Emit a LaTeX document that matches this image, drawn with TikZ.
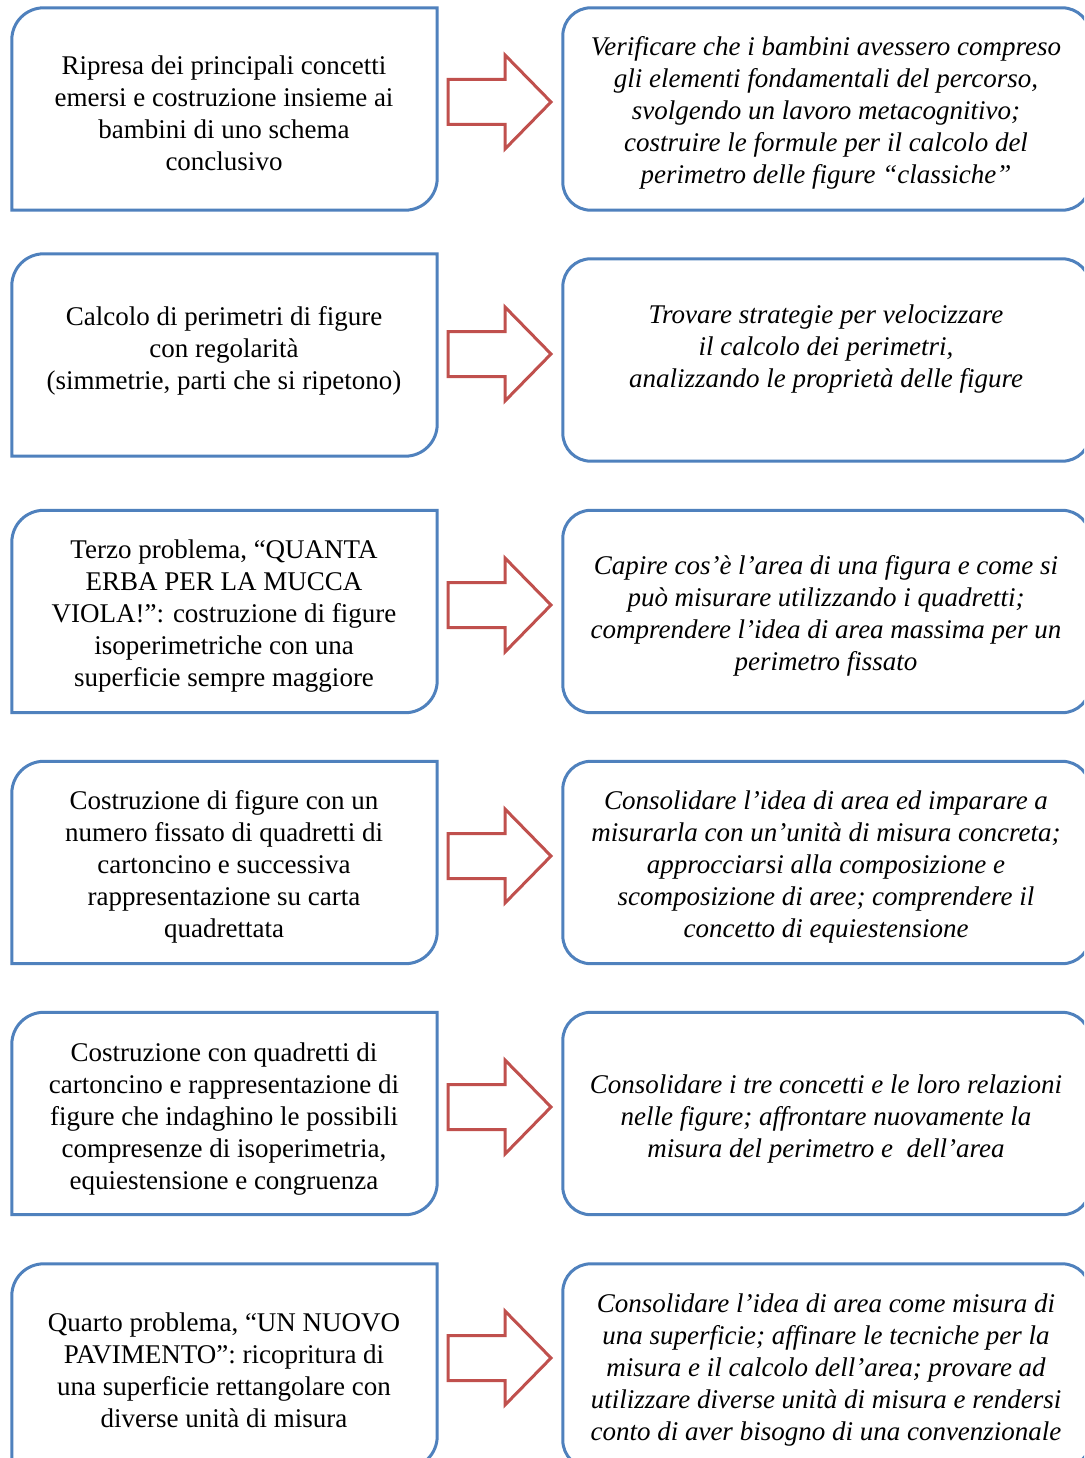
\documentclass[tikz,border=0pt]{standalone}
\usepackage{fontspec}
\setmainfont{Liberation Serif}
\usetikzlibrary{calc}
\definecolor{boxblue}{HTML}{4F81BD}
\definecolor{arrred}{HTML}{C0504D}
\tikzset{
  frame/.style={draw=none, inner sep=0pt, minimum width=425pt, minimum height=202pt},
  rframe/.style={draw=none, inner sep=0pt, minimum width=527pt, minimum height=202pt},
  boxline/.style={draw=boxblue, line width=3pt},
  arr/.style={draw=arrred, line width=3pt, line join=miter},
  ltext/.style={align=center, inner sep=0pt, yshift=-3pt, font=\fontsize{27}{32}\selectfont},
  rtext/.style={align=center, inner sep=0pt, yshift=-3pt, font=\fontsize{27}{32}\selectfont\itshape},
}
\newcommand{\leftframe}[1]{%
  \draw[boxline] (#1.south west) -- ($(#1.north west)+(0,32)$)
    .. controls ($(#1.north west)+(0,14.3)$) and ($(#1.north west)+(14.3,0)$) .. ($(#1.north west)+(32,0)$)
    -- (#1.north east) -- ($(#1.south east)+(0,-32)$)
    .. controls ($(#1.south east)+(0,-14.3)$) and ($(#1.south east)+(-14.3,0)$) .. ($(#1.south east)+(-32,0)$)
    -- cycle;}
\newcommand{\blockarrow}[1]{%
  \draw[arr] (#1) ++(0,-22.5) -- ++(57,0) -- ++(0,-24.5) -- ++(46,47) -- ++(-46,47) -- ++(0,-24.5) -- ++(-57,0) -- cycle;}
\begin{document}
\begin{tikzpicture}[x=1pt,y=-1pt]
\useasboundingbox (0,0) rectangle (1084,1458);
\clip (0,0) rectangle (1084,1458);
\fill[white] (0,0) rectangle (1084,1458);

% frames (anchor nodes)
\node[frame] (L1) at (224.5,109) {};
\node[frame] (L2) at (224.5,355) {};
\node[frame] (L3) at (224.5,611.5) {};
\node[frame] (L4) at (224.5,862.5) {};
\node[frame] (L5) at (224.5,1113.5) {};
\node[frame, minimum height=204pt] (L6) at (224.5,1366) {};

\node[rframe] (R1) at (826.5,109) {};
\node[rframe] (R2) at (826.5,360) {};
\node[rframe] (R3) at (826.5,611.5) {};
\node[rframe] (R4) at (826.5,862.5) {};
\node[rframe] (R5) at (826.5,1113.5) {};
\node[rframe, minimum height=204pt] (R6) at (826.5,1366) {};

\foreach \n in {L1,L2,L3,L4,L5,L6}{\leftframe{\n}}
\foreach \n in {R1,R2,R3,R4,R5,R6}{
  \draw[boxline, rounded corners=28pt] (\n.south west) rectangle (\n.north east);}

% arrows
\coordinate (A1) at (448,102);
\coordinate (A2) at (448,354);
\coordinate (A3) at (448,605);
\coordinate (A4) at (448,856);
\coordinate (A5) at (448,1107);
\coordinate (A6) at (448,1358);
\foreach \a in {A1,A2,A3,A4,A5,A6}{\blockarrow{\a}}

% texts
\node[ltext] (t1) at (224,110) {Ripresa dei principali concetti\\emersi e costruzione insieme ai\\bambini di uno schema\\conclusivo};
\node[rtext] (u1) at (826,110) {Verificare che i bambini avessero compreso\\gli elementi fondamentali del percorso,\\svolgendo un lavoro metacognitivo;\\costruire le formule per il calcolo del\\perimetro delle figure “classiche”};

\node[ltext] (t2) at (224,348) {Calcolo di perimetri di figure\\con regolarità\\(simmetrie, parti che si ripetono)};
\node[rtext] (u2) at (826,346) {Trovare strategie per velocizzare\\il calcolo dei perimetri,\\analizzando le proprietà delle figure};

\node[ltext] (t3) at (224,613) {Terzo problema, “QUANTA\\ERBA PER LA MUCCA\\VIOLA!”: costruzione di figure\\isoperimetriche con una\\superficie sempre maggiore};
\node[rtext] (u3) at (826,613) {Capire cos’è l’area di una figura e come si\\può misurare utilizzando i quadretti;\\comprendere l’idea di area massima per un\\perimetro fissato};

\node[ltext] (t4) at (224,864) {Costruzione di figure con un\\numero fissato di quadretti di\\cartoncino e successiva\\rappresentazione su carta\\quadrettata};
\node[rtext] (u4) at (826,864) {Consolidare l’idea di area ed imparare a\\misurarla con un’unità di misura concreta;\\approcciarsi alla composizione e\\scomposizione di aree; comprendere il\\concetto di equiestensione};

\node[ltext] (t5) at (224,1116) {Costruzione con quadretti di\\cartoncino e rappresentazione di\\figure che indaghino le possibili\\compresenze di isoperimetria,\\equiestensione e congruenza};
\node[rtext] (u5) at (826,1116) {Consolidare i tre concetti e le loro relazioni\\nelle figure; affrontare nuovamente la\\misura del perimetro e~ dell’area};

\node[ltext] (t6) at (224,1367) {Quarto problema, “UN NUOVO\\PAVIMENTO”: ricopritura di\\una superficie rettangolare con\\diverse unità di misura};
\node[rtext] (u6) at (826,1367) {Consolidare l’idea di area come misura di\\una superficie; affinare le tecniche per la\\misura e il calcolo dell’area; provare ad\\utilizzare diverse unità di misura e rendersi\\conto di aver bisogno di una convenzionale};
\end{tikzpicture}
\end{document}
